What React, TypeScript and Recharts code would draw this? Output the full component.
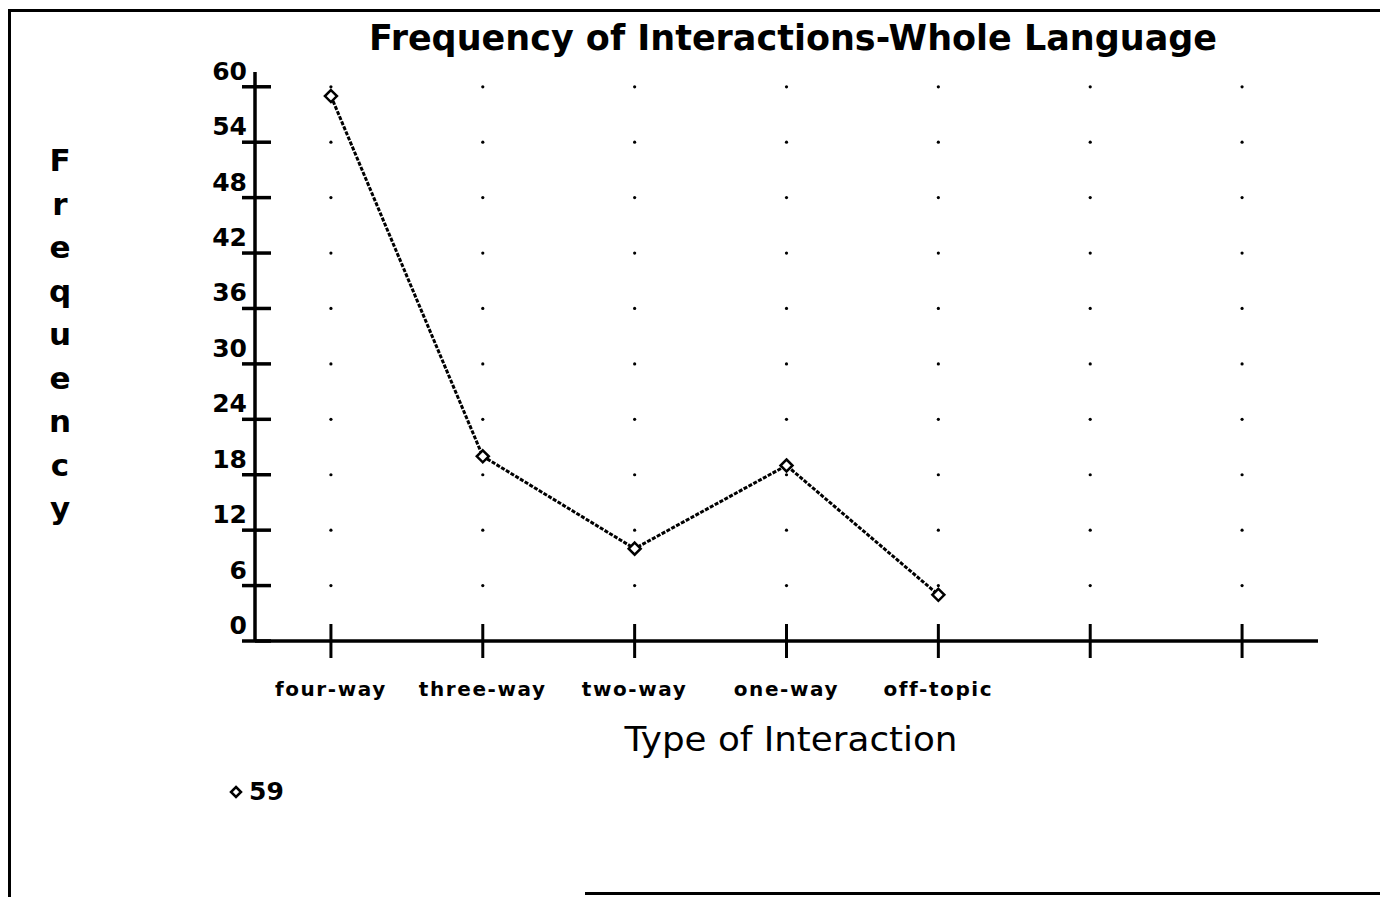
import React from 'react';
import { LineChart, Line, XAxis, YAxis, ReferenceDot, Legend } from 'recharts';

const categories = ['four-way', 'three-way', 'two-way', 'one-way', 'off-topic', '', ''];
const frequencies = [59, 20, 10, 19, 5];
const yTicks = [0, 6, 12, 18, 24, 30, 36, 42, 48, 54, 60];
const seriesName = '59';

const data = frequencies.map((v, i) => ({ idx: i, value: v }));
const xIdx = categories.map((_, i) => i);

const FONT = 'DejaVu Sans, sans-serif';

const YTick = (props: any) => {
  const { x, y, payload } = props;
  return (
    <g>
      <line x1={x - 13} x2={x + 16} y1={y} y2={y} stroke="#000" strokeWidth={3.5} />
      <text x={x - 8} y={y - 7} textAnchor="end" fontFamily={FONT} fontWeight="bold" fontSize={25} fill="#000">
        {payload.value}
      </text>
    </g>
  );
};

const XTick = (props: any) => {
  const { x, y, payload } = props;
  const label = categories[payload.value] ?? '';
  return (
    <g>
      <line x1={x} x2={x} y1={y - 17} y2={y + 17} stroke="#000" strokeWidth={3} />
      {label ? (
        <text x={x} y={y + 55} textAnchor="middle" fontFamily={FONT} fontWeight="bold" fontSize={20} letterSpacing={1.6} fill="#000">
          {label}
        </text>
      ) : null}
    </g>
  );
};

const Diamond = (props: any) => {
  const { cx, cy } = props;
  if (cx == null || cy == null) return null;
  const s = 6;
  return (
    <path
      d={`M${cx},${cy - s} L${cx + s},${cy} L${cx},${cy + s} L${cx - s},${cy} Z`}
      fill="#fff"
      stroke="#000"
      strokeWidth={2.5}
    />
  );
};

const LegendContent = () => (
  <div style={{ display: 'flex', alignItems: 'center', fontFamily: FONT, fontWeight: 'bold', fontSize: 25, color: '#000' }}>
    <svg width={14} height={14} style={{ marginRight: 6 }}>
      <path d="M7,2 L12,7 L7,12 L2,7 Z" fill="#fff" stroke="#000" strokeWidth={2.5} />
    </svg>
    <span>{seriesName}</span>
  </div>
);

const yLabelLetters = 'Frequency'.split('');

export default function App() {
  return (
    <div style={{ position: 'relative', width: 1380, height: 889, background: '#fff' }}>
      <div style={{ position: 'absolute', left: 0, top: 1, width: 1380, height: 3, background: '#000' }} />
      <div style={{ position: 'absolute', left: 0, top: 1, width: 3, height: 888, background: '#000' }} />
      <div style={{ position: 'absolute', left: 577, top: 884, width: 803, height: 3, background: '#000' }} />
      <div style={{ position: 'absolute', left: 0, top: 0 }}>
        <LineChart
          width={1380}
          height={889}
          data={data}
          margin={{ top: 64, right: 70, left: 187, bottom: 196 }}
        >
          <text x={785} y={42} textAnchor="middle" fontFamily={FONT} fontWeight="bold" fontSize={36} textLength={848} lengthAdjust="spacingAndGlyphs" fill="#000">
            Frequency of Interactions-Whole Language
          </text>
          <text fontFamily={FONT} fontWeight="bold" fontSize={31} fill="#000" textAnchor="middle">
            {yLabelLetters.map((ch, i) => (
              <tspan key={i} x={52} y={163 + i * 43.5}>
                {ch}
              </tspan>
            ))}
          </text>
          <text x={783} y={743} textAnchor="middle" fontFamily={FONT} fontSize={33} textLength={333} lengthAdjust="spacingAndGlyphs" fill="#000">
            Type of Interaction
          </text>
          <XAxis
            dataKey="idx"
            type="number"
            domain={[-0.5, 6.5]}
            ticks={xIdx}
            interval={0}
            height={60}
            tickSize={0}
            tickMargin={0}
            tickLine={false}
            tick={<XTick />}
            axisLine={{ stroke: '#000', strokeWidth: 3.5 }}
          />
          <YAxis
            type="number"
            domain={[0, 61.6]}
            ticks={yTicks}
            interval={0}
            width={60}
            tickSize={0}
            tickMargin={0}
            tickLine={false}
            tick={<YTick />}
            axisLine={{ stroke: '#000', strokeWidth: 3.5 }}
          />
          {xIdx.map((xi) =>
            yTicks
              .filter((t) => t > 0)
              .map((t) => (
                <ReferenceDot key={`g-${xi}-${t}`} x={xi} y={t} r={1.6} fill="#000" stroke="none" />
              ))
          )}
          <Line
            type="linear"
            dataKey="value"
            name={seriesName}
            stroke="#000"
            strokeWidth={3}
            strokeDasharray="4 1.5"
            dot={<Diamond />}
            activeDot={false}
            isAnimationActive={false}
          />
          <Legend
            layout="horizontal"
            verticalAlign="middle"
            align="center"
            content={<LegendContent />}
            wrapperStyle={{ left: 221, top: 769, width: 'auto', height: 'auto' }}
          />
        </LineChart>
      </div>
    </div>
  );
}
